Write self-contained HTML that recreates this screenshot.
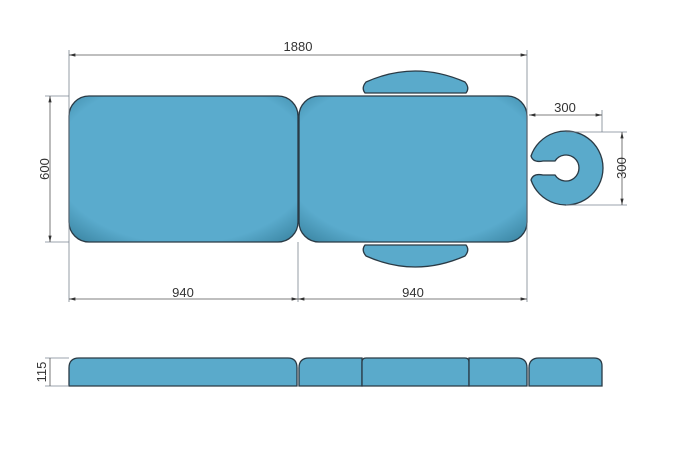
<!DOCTYPE html>
<html><head><style>body{margin:0;background:#fff}svg{display:block}</style></head><body>
<svg width="673" height="450" viewBox="0 0 673 450" xmlns="http://www.w3.org/2000/svg" font-family="Liberation Sans, sans-serif">
<defs>
<radialGradient id="g" cx="50%" cy="45%" r="70%"><stop offset="0.8" stop-color="#5aabcd"/><stop offset="1" stop-color="#3f8aa8"/></radialGradient>
<marker id="a" markerWidth="8" markerHeight="6" refX="8" refY="3" orient="auto-start-reverse"><path d="M0,1 L8,3 L0,5z" fill="#333"/></marker>
</defs>
<g fill="#5aaacb" stroke="#2a3a45" stroke-width="1.3">
<rect x="69" y="96" width="229" height="146" rx="20" fill="url(#g)"/>
<rect x="299" y="96" width="228" height="146" rx="20" fill="url(#g)"/>
<path d="M365,93 Q361,88 366,82 Q415,60 465,82 Q470,88 466,93 Z"/>
<path d="M365,245 Q361,250 366,256 Q415,278 465,256 Q470,250 466,245 Z"/>
<path d="M543,161 L555,161 A13,13 0 1,1 555,175 L543,175 Q533,173 531,180 A37,37 0 1,0 531,156 Q533,163 543,161 Z"/>
<path d="M69,386 V368 Q69,358 79,358 H288 Q297,358 297,368 V386 Z"/>
<path d="M299,386 V368 Q299,358 309,358 H362 V386 Z"/>
<path d="M362,386 V362 Q362,358 366,358 H465 Q469,358 469,362 V386 Z"/>
<path d="M469,386 V358 H517 Q527,358 527,368 V386 Z"/>
<path d="M529,386 V368 Q529,358 539,358 H594 Q602,358 602,366 V386 Z"/>
</g>
<g stroke="#7a8590" stroke-width="0.8" fill="none">
<line x1="69" y1="50" x2="69" y2="302"/><line x1="527" y1="50" x2="527" y2="302"/><line x1="298" y1="242" x2="298" y2="302"/>
<line x1="45" y1="96" x2="69" y2="96"/><line x1="45" y1="242" x2="69" y2="242"/>
<line x1="602" y1="110" x2="602" y2="132"/><line x1="566" y1="132" x2="627" y2="132"/><line x1="566" y1="205" x2="627" y2="205"/>
<line x1="45" y1="358" x2="69" y2="358"/><line x1="45" y1="386" x2="69" y2="386"/>
</g>
<g stroke="#555" stroke-width="0.8">
<line x1="69" y1="55" x2="527" y2="55" marker-start="url(#a)" marker-end="url(#a)"/>
<line x1="50" y1="96" x2="50" y2="242" marker-start="url(#a)" marker-end="url(#a)"/>
<line x1="69" y1="299" x2="298" y2="299" marker-start="url(#a)" marker-end="url(#a)"/>
<line x1="298" y1="299" x2="527" y2="299" marker-start="url(#a)" marker-end="url(#a)"/>
<line x1="529" y1="115" x2="602" y2="115" marker-start="url(#a)" marker-end="url(#a)"/>
<line x1="622" y1="132" x2="622" y2="205" marker-start="url(#a)" marker-end="url(#a)"/>
<line x1="50" y1="358" x2="50" y2="386"/>
</g>
<g font-size="13" fill="#333" text-anchor="middle">
<text x="298" y="51">1880</text>
<text x="183" y="297">940</text>
<text x="413" y="297">940</text>
<text x="565" y="112">300</text>
<text transform="translate(49,169) rotate(-90)">600</text>
<text transform="translate(626,168) rotate(-90)">300</text>
<text transform="translate(46,372) rotate(-90)">115</text>
</g>
</svg>
</body></html>
